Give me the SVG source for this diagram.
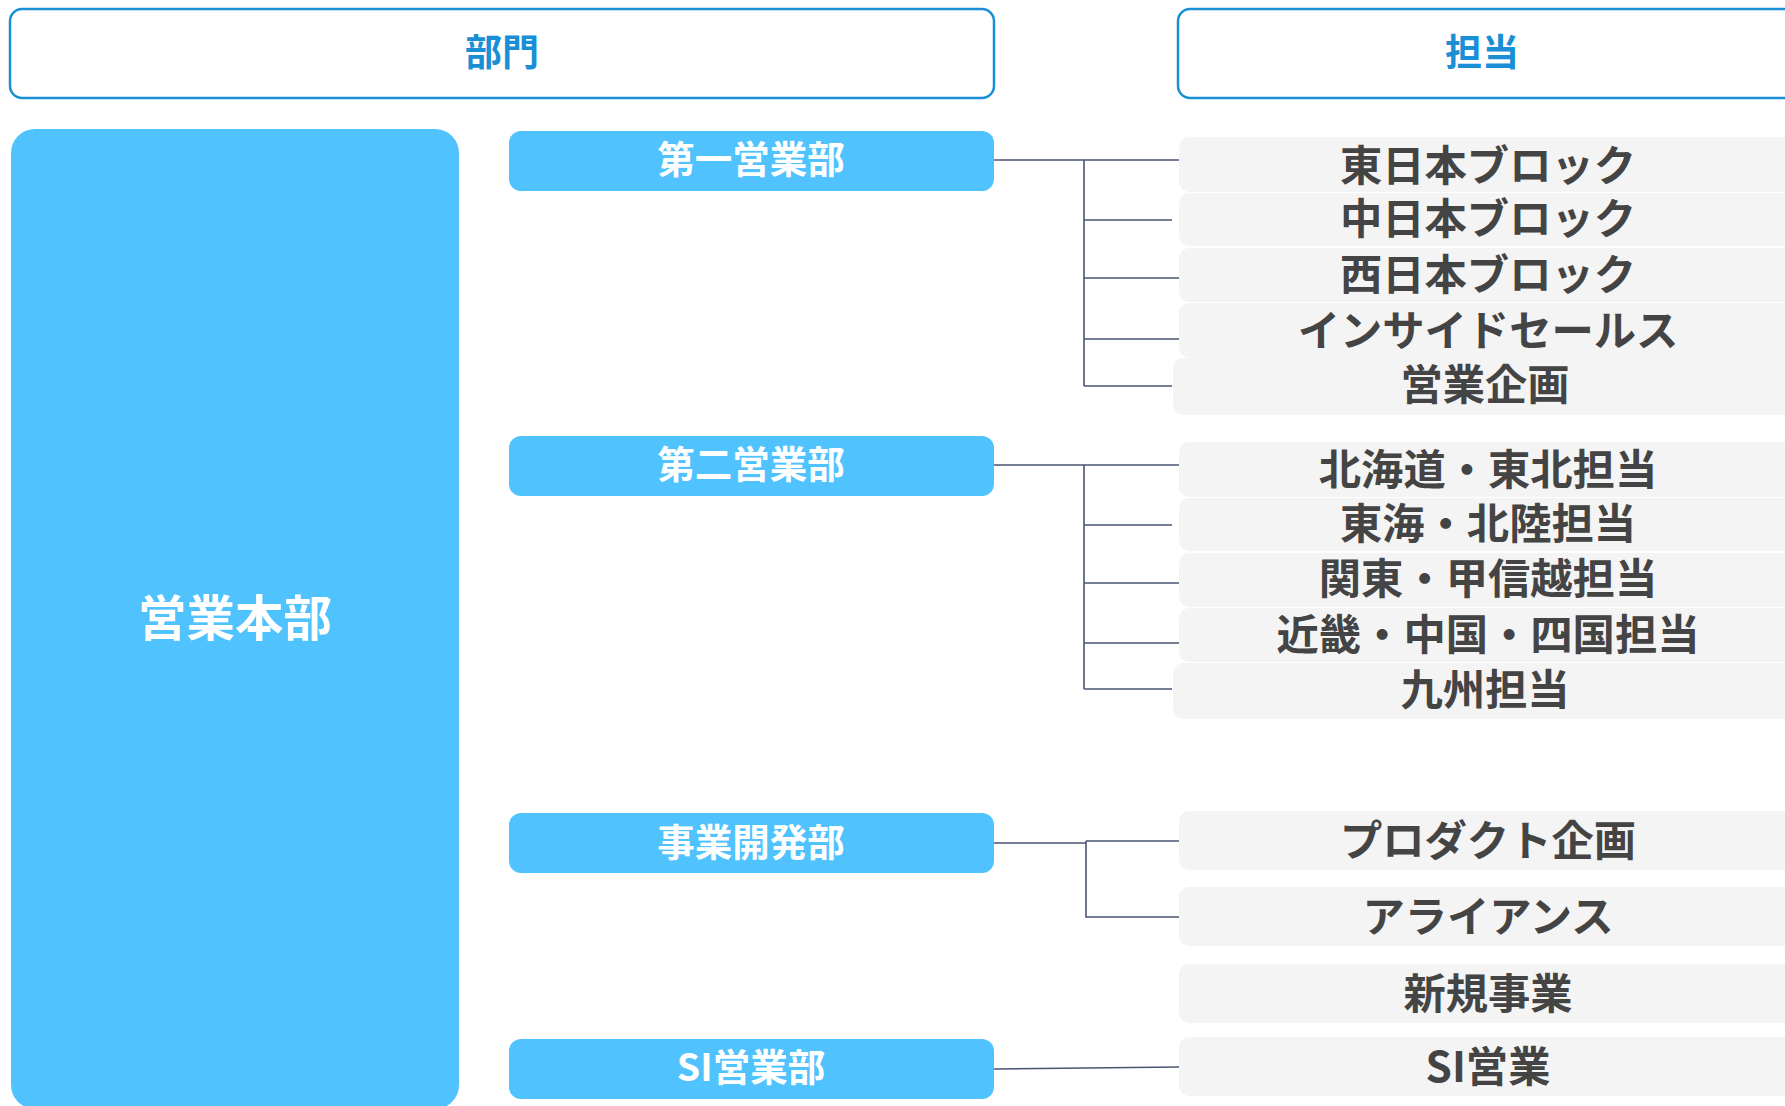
<svg xmlns="http://www.w3.org/2000/svg" width="1785" height="1106" viewBox="0 0 1785 1106">
<style>
text{font-family:"Noto Sans CJK JP","Noto Sans CJK SC",sans-serif;font-weight:700;text-anchor:middle;dominant-baseline:central}
.hdr{fill:#fff;stroke:#1a8fd6;stroke-width:2.5}
.hdrt{fill:#1a8fd6;font-size:37px}
.dept{fill:#50c3ff}
.deptt{fill:#fff;font-size:37.5px}
.item{fill:#f4f4f4}
.itemt{fill:#444;font-size:42.3px}
.conn{fill:none;stroke:#4a5670;stroke-width:1.6}
</style>
<rect width="1785" height="1106" fill="#fff"/>
<g id="header-bumon"><rect class="hdr" x="10" y="9" width="984" height="89" rx="12"/><text class="hdrt" x="502" y="49.5">部門</text></g>
<g id="header-tanto"><rect class="hdr" x="1178" y="9" width="620" height="89" rx="12"/><text class="hdrt" x="1482" y="49.5">担当</text></g>
<g id="eigyohonbu"><rect class="dept" x="11" y="129" width="448" height="980" rx="24"/><text class="deptt" style="font-size:48.5px" x="235" y="615">営業本部</text></g>
<g id="dept1"><rect class="dept" x="509" y="131" width="485" height="60" rx="12"/><text class="deptt" x="751" y="156.5">第一営業部</text></g>
<g id="dept2"><rect class="dept" x="509" y="436" width="485" height="60" rx="12"/><text class="deptt" x="751" y="461.5">第二営業部</text></g>
<g id="dept3"><rect class="dept" x="509" y="813" width="485" height="60" rx="12"/><text class="deptt" x="751" y="839.5">事業開発部</text></g>
<g id="dept4"><rect class="dept" x="509" y="1039" width="485" height="60" rx="12"/><text class="deptt" x="751" y="1064.5">SI営業部</text></g>
<g id="connectors">
<path class="conn" d="M994 160H1179M1084 160V386M1084 220H1172M1084 278H1179M1084 339H1179M1084 386H1172"/>
<path class="conn" d="M994 465H1179M1084 465V689M1084 525H1172M1084 583H1179M1084 643H1179M1084 689H1172"/>
<path class="conn" d="M994 843H1086M1086 841H1179M1086 841V917H1179"/>
<path class="conn" d="M994 1069L1179 1067"/>
</g>
<g id="item-higashi"><rect class="item" x="1179" y="137" width="620" height="55" rx="10"/><text class="itemt" x="1488" y="162">東日本ブロック</text></g>
<g id="item-naka"><rect class="item" x="1179" y="193" width="620" height="53" rx="10"/><text class="itemt" x="1488" y="215">中日本ブロック</text></g>
<g id="item-nishi"><rect class="item" x="1179" y="248" width="620" height="54" rx="10"/><text class="itemt" x="1488" y="271">西日本ブロック</text></g>
<g id="item-inside"><rect class="item" x="1179" y="303" width="620" height="55" rx="10"/><text class="itemt" x="1488" y="327">インサイドセールス</text></g>
<g id="item-kikaku"><rect class="item" x="1173" y="358" width="626" height="57" rx="10"/><text class="itemt" x="1485" y="381">営業企画</text></g>
<g id="item-hokkaido"><rect class="item" x="1179" y="442" width="620" height="55" rx="10"/><text class="itemt" x="1488" y="466">北海道・東北担当</text></g>
<g id="item-tokai"><rect class="item" x="1179" y="498" width="620" height="53" rx="10"/><text class="itemt" x="1488" y="520">東海・北陸担当</text></g>
<g id="item-kanto"><rect class="item" x="1179" y="553" width="620" height="54" rx="10"/><text class="itemt" x="1488" y="575">関東・甲信越担当</text></g>
<g id="item-kinki"><rect class="item" x="1179" y="608" width="620" height="54" rx="10"/><text class="itemt" x="1488" y="631">近畿・中国・四国担当</text></g>
<g id="item-kyushu"><rect class="item" x="1173" y="663" width="626" height="56" rx="10"/><text class="itemt" x="1485" y="686">九州担当</text></g>
<g id="item-product"><rect class="item" x="1179" y="811" width="620" height="59" rx="10"/><text class="itemt" x="1488" y="837">プロダクト企画</text></g>
<g id="item-alliance"><rect class="item" x="1179" y="887" width="620" height="59" rx="10"/><text class="itemt" x="1488" y="913">アライアンス</text></g>
<g id="item-shinki"><rect class="item" x="1179" y="964" width="620" height="59" rx="10"/><text class="itemt" x="1488" y="990">新規事業</text></g>
<g id="item-si"><rect class="item" x="1179" y="1037" width="620" height="59" rx="10"/><text class="itemt" x="1488" y="1063">SI営業</text></g>
</svg>
